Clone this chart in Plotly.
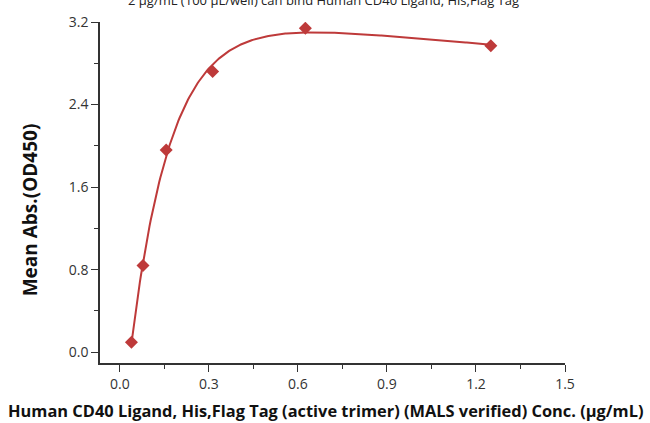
import numpy as np
import plotly.graph_objects as go

# Data
conc = [0.039, 0.078, 0.156, 0.3125, 0.625, 1.25]
od450 = [0.095, 0.84, 1.96, 2.72, 3.14, 2.97]
x_ticks = [0.0, 0.3, 0.6, 0.9, 1.2, 1.5]
x_ticklabels = ["0.0", "0.3", "0.6", "0.9", "1.2", "1.5"]
y_ticks = [0.0, 0.8, 1.6, 2.4, 3.2]
y_ticklabels = ["0.0", "0.8", "1.6", "2.4", "3.2"]

title_text = ("Immobilized Human CD40, Fc Tag at<br>"
              "2 μg/mL (100 μL/well) can bind Human CD40 Ligand, His,Flag Tag")
x_title = "Human CD40 Ligand, His,Flag Tag (active trimer) (MALS verified) Conc. (μg/mL)"
y_title = "Mean Abs.(OD450)"

# Least-squares fit of a saturating curve y = A*(1-exp(-k(x-x0))) + m*x
xd = np.array(conc)
yd = np.array(od450)
best = None
for k in np.linspace(2, 15, 131):
    for x0 in np.linspace(0.0, 0.038, 39):
        basis = np.column_stack([1 - np.exp(-k * (xd - x0)), xd])
        coef, *_ = np.linalg.lstsq(basis, yd, rcond=None)
        err = np.sum((basis @ coef - yd) ** 2)
        if best is None or err < best[0]:
            best = (err, k, x0, coef)
_, k, x0, coef = best
xf = np.linspace(min(conc), max(conc), 300)
yf = coef[0] * (1 - np.exp(-k * (xf - x0))) + coef[1] * xf

red = "#BE3A3A"
fig = go.Figure()
fig.add_trace(go.Scatter(x=xf, y=yf, mode="lines",
                         line=dict(color=red, width=2), hoverinfo="skip"))
fig.add_trace(go.Scatter(x=conc, y=od450, mode="markers",
                         marker=dict(symbol="diamond", size=10, color=red)))

font = "Open Sans"
fig.update_layout(
    width=650, height=423,
    margin=dict(l=100, r=85, t=16, b=60),
    paper_bgcolor="white", plot_bgcolor="white",
    showlegend=False,
    font=dict(family=font, color="#333333"),
)
fig.update_xaxes(
    range=[-0.067, 1.5], showgrid=False, zeroline=False,
    showline=True, linecolor="#333333", linewidth=1.5,
    tickmode="array", tickvals=x_ticks, ticktext=x_ticklabels,
    ticks="outside", ticklen=7, tickwidth=1.3, tickcolor="#333333",
    tickfont=dict(size=14, color="#333333"),
    minor=dict(tickvals=[0.15, 0.45, 0.75, 1.05, 1.35], ticks="outside",
               ticklen=4, tickwidth=1.3, tickcolor="#333333"),
)
fig.update_yaxes(
    range=[-0.105, 3.2], showgrid=False, zeroline=False,
    showline=True, linecolor="#333333", linewidth=1.5,
    tickmode="array", tickvals=y_ticks, ticktext=y_ticklabels,
    ticks="outside", ticklen=7, tickwidth=1.3, tickcolor="#333333",
    tickfont=dict(size=14, color="#333333"),
    minor=dict(tickvals=[0.4, 1.2, 2.0, 2.8], ticks="outside",
               ticklen=4, tickwidth=1.3, tickcolor="#333333"),
)
fig.add_annotation(text=title_text, xref="paper", yref="paper",
                   x=0.48, y=1.033, xanchor="center", yanchor="bottom",
                   showarrow=False, font=dict(size=13, color="#222222", family=font))
fig.add_annotation(text="<b>" + x_title + "</b>", xref="paper", yref="paper",
                   x=0.485, y=-0.14, xanchor="center", yanchor="middle",
                   showarrow=False, font=dict(size=16.4, color="#111111", family=font))
fig.add_annotation(text="<b>" + y_title + "</b>", xref="paper", yref="paper",
                   x=-0.151, y=0.45, xanchor="center", yanchor="middle", textangle=-90,
                   showarrow=False, font=dict(size=19, color="#111111", family=font))

fig.write_html("out.html", config={"displayModeBar": False},
               post_script="document.body.style.margin='0';")
